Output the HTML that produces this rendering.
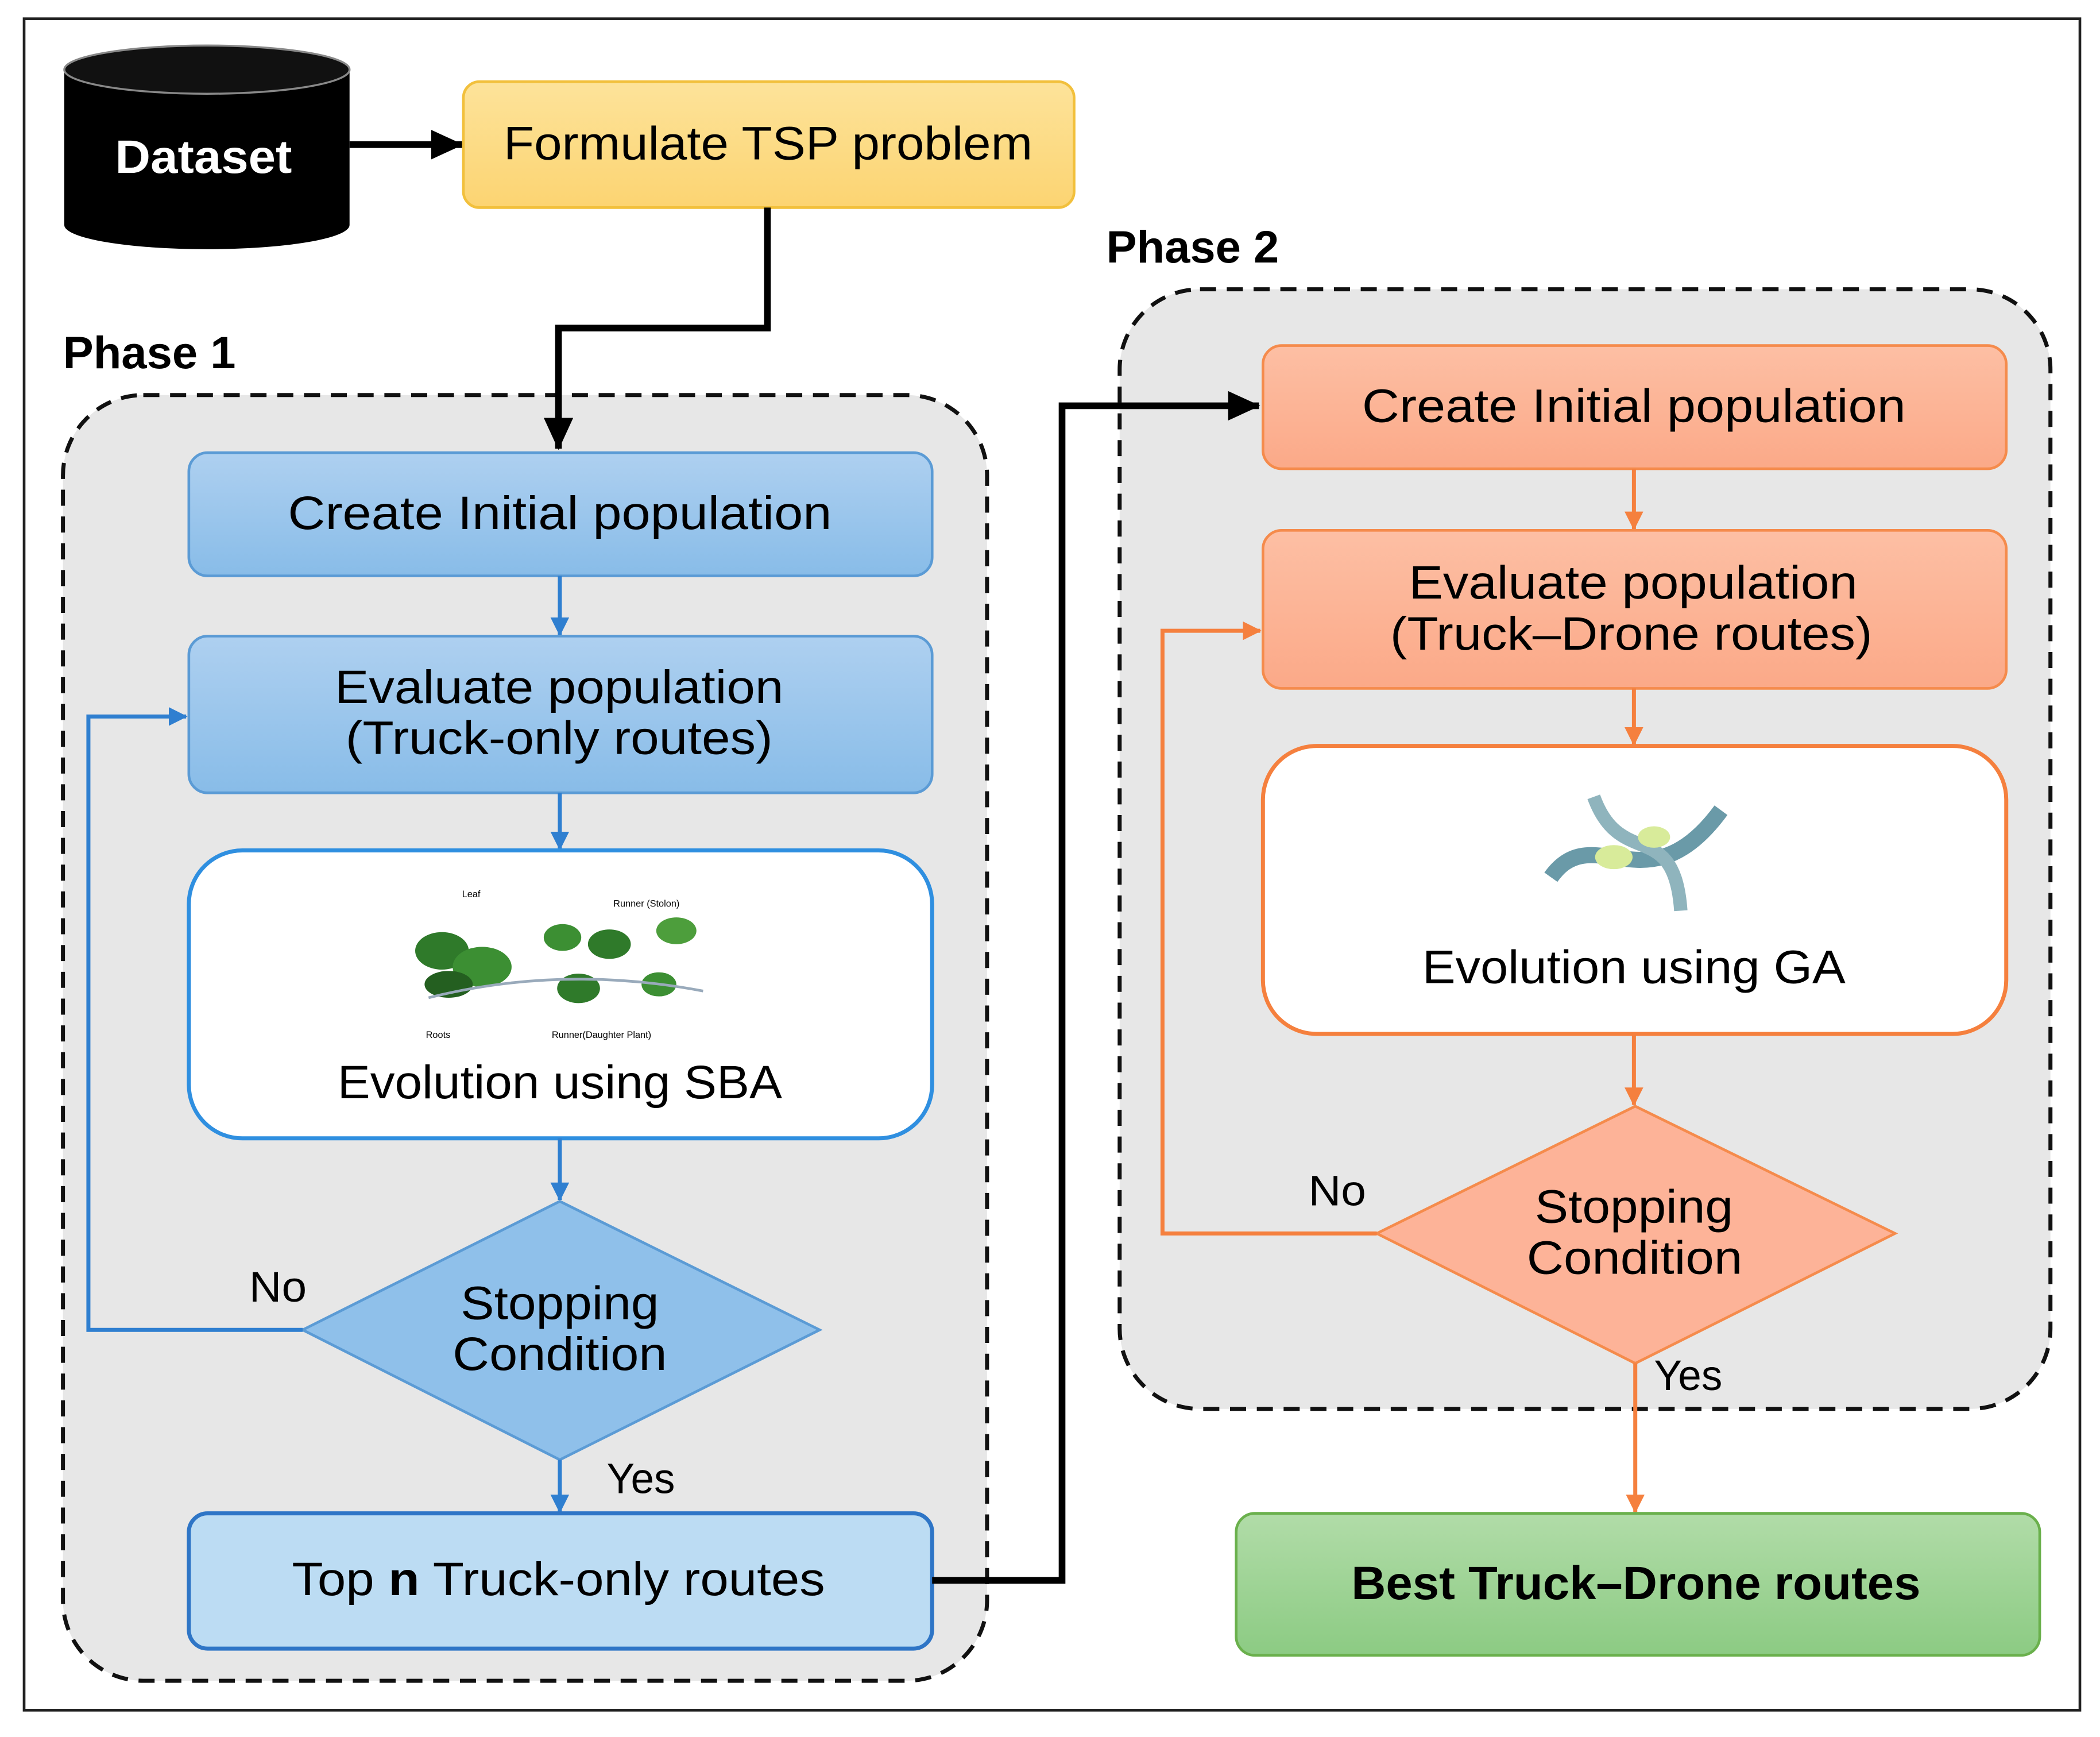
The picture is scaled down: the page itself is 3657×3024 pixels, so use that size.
<!DOCTYPE html>
<html><head><meta charset="utf-8"><style>
html,body{margin:0;padding:0;background:#fff}
svg{display:block}
text{font-family:"Liberation Sans",sans-serif}
</style></head><body>
<svg width="3657" height="3024" viewBox="0 0 1568 1297" preserveAspectRatio="none" xmlns="http://www.w3.org/2000/svg">
<defs>
<linearGradient id="bl" x1="0" y1="0" x2="0" y2="1"><stop offset="0" stop-color="#aed0f0"/><stop offset="1" stop-color="#88bce8"/></linearGradient>
<linearGradient id="or" x1="0" y1="0" x2="0" y2="1"><stop offset="0" stop-color="#fdbfa4"/><stop offset="1" stop-color="#fba988"/></linearGradient>
<linearGradient id="ye" x1="0" y1="0" x2="0" y2="1"><stop offset="0" stop-color="#fde39a"/><stop offset="1" stop-color="#fcd472"/></linearGradient>
<linearGradient id="gr" x1="0" y1="0" x2="0" y2="1"><stop offset="0" stop-color="#b1dca8"/><stop offset="1" stop-color="#8ccb83"/></linearGradient>
<marker id="abk" markerWidth="24" markerHeight="22" refX="23" refY="11" orient="auto" markerUnits="userSpaceOnUse"><path d="M0,0 L24,11 L0,22 z" fill="#000"/></marker>
<marker id="abl" markerWidth="14" markerHeight="14" refX="13" refY="7" orient="auto" markerUnits="userSpaceOnUse"><path d="M0,0 L14,7 L0,14 z" fill="#2f7fd0"/></marker>
<marker id="aor" markerWidth="14" markerHeight="14" refX="13" refY="7" orient="auto" markerUnits="userSpaceOnUse"><path d="M0,0 L14,7 L0,14 z" fill="#f5803e"/></marker>
</defs>
<rect x="18" y="14" width="1535" height="1263" fill="#fff" stroke="#222" stroke-width="2"/>
<rect x="47" y="295" width="690" height="960" rx="60" fill="#e7e7e7" stroke="#111" stroke-width="3" stroke-dasharray="12,8"/>
<rect x="836" y="216" width="695" height="836" rx="60" fill="#e7e7e7" stroke="#111" stroke-width="3" stroke-dasharray="12,8"/>
<text x="47" y="275" font-size="34" font-weight="bold" textLength="129" lengthAdjust="spacingAndGlyphs">Phase 1</text>
<text x="826" y="196" font-size="34" font-weight="bold" textLength="129" lengthAdjust="spacingAndGlyphs">Phase 2</text>
<path d="M48,52 L48,168 A106,18 0 0 0 261,168 L261,52 Z" fill="#000"/>
<ellipse cx="154.5" cy="52" rx="106.5" ry="18" fill="#111" stroke="#888" stroke-width="1.5"/>
<text x="86" y="129" font-size="35" font-weight="bold" fill="#fff" textLength="132" lengthAdjust="spacingAndGlyphs">Dataset</text>
<line x1="261" y1="108" x2="345" y2="108" stroke="#000" stroke-width="5" marker-end="url(#abk)"/>
<rect x="346" y="61" width="456" height="94" rx="12" fill="url(#ye)" stroke="#f2c03c" stroke-width="2"/>
<text x="376" y="119" font-size="35" textLength="395" lengthAdjust="spacingAndGlyphs">Formulate TSP problem</text>
<polyline points="573,155 573,245 417,245 417,335" fill="none" stroke="#000" stroke-width="5" marker-end="url(#abk)"/>
<rect x="141" y="338" width="555" height="92" rx="14" fill="url(#bl)" stroke="#5b9bd5" stroke-width="2"/>
<text x="215" y="395" font-size="35" textLength="406" lengthAdjust="spacingAndGlyphs">Create Initial population</text>
<line x1="418" y1="430" x2="418" y2="474" stroke="#2f7fd0" stroke-width="3" marker-end="url(#abl)"/>
<rect x="141" y="475" width="555" height="117" rx="14" fill="url(#bl)" stroke="#5b9bd5" stroke-width="2"/>
<text x="250" y="525" font-size="35" textLength="335" lengthAdjust="spacingAndGlyphs">Evaluate population</text>
<text x="258" y="563" font-size="35" textLength="319" lengthAdjust="spacingAndGlyphs">(Truck-only routes)</text>
<line x1="418" y1="592" x2="418" y2="634" stroke="#2f7fd0" stroke-width="3" marker-end="url(#abl)"/>
<rect x="141" y="635" width="555" height="215" rx="40" fill="#fff" stroke="#2f8fe0" stroke-width="3"/>
<g>
<ellipse cx="330" cy="710" rx="20" ry="14" fill="#2f7a2a"/>
<ellipse cx="360" cy="722" rx="22" ry="15" fill="#3c8f33"/>
<ellipse cx="335" cy="735" rx="18" ry="10" fill="#245f20"/>
<ellipse cx="420" cy="700" rx="14" ry="10" fill="#3c8f33"/>
<ellipse cx="455" cy="705" rx="16" ry="11" fill="#2f7a2a"/>
<ellipse cx="505" cy="695" rx="15" ry="10" fill="#4d9e3c"/>
<ellipse cx="432" cy="738" rx="16" ry="11" fill="#2f7a2a"/>
<ellipse cx="492" cy="735" rx="13" ry="9" fill="#3c8f33"/>
<path d="M320,745 Q420,720 525,740" stroke="#9ab" stroke-width="2" fill="none"/>
<text x="345" y="670" font-size="7">Leaf</text><text x="458" y="677" font-size="7">Runner (Stolon)</text>
<text x="318" y="775" font-size="7">Roots</text><text x="412" y="775" font-size="7">Runner(Daughter Plant)</text>
</g>
<text x="252" y="820" font-size="35" textLength="332" lengthAdjust="spacingAndGlyphs">Evolution using SBA</text>
<line x1="418" y1="850" x2="418" y2="896" stroke="#2f7fd0" stroke-width="3" marker-end="url(#abl)"/>
<polygon points="418,897 612,993 418,1090 226,993" fill="#8fc0ea" stroke="#5b9bd5" stroke-width="2"/>
<text x="344" y="985" font-size="35" textLength="148" lengthAdjust="spacingAndGlyphs">Stopping</text>
<text x="338" y="1023" font-size="35" textLength="160" lengthAdjust="spacingAndGlyphs">Condition</text>
<text x="186" y="972" font-size="32" textLength="43" lengthAdjust="spacingAndGlyphs">No</text>
<polyline points="226,993 66,993 66,535 139,535" fill="none" stroke="#2f7fd0" stroke-width="3" marker-end="url(#abl)"/>
<text x="453" y="1115" font-size="32" textLength="51" lengthAdjust="spacingAndGlyphs">Yes</text>
<line x1="418" y1="1090" x2="418" y2="1129" stroke="#2f7fd0" stroke-width="3" marker-end="url(#abl)"/>
<rect x="141" y="1130" width="555" height="101" rx="14" fill="#bcdcf3" stroke="#2e75c6" stroke-width="3"/>
<text x="218" y="1191" font-size="35" textLength="398" lengthAdjust="spacingAndGlyphs">Top <tspan font-weight="bold">n</tspan> Truck-only routes</text>
<polyline points="696,1180 793,1180 793,303 940,303" fill="none" stroke="#000" stroke-width="5" marker-end="url(#abk)"/>
<rect x="943" y="258" width="555" height="92" rx="14" fill="url(#or)" stroke="#f58b4c" stroke-width="2"/>
<text x="1017" y="315" font-size="35" textLength="406" lengthAdjust="spacingAndGlyphs">Create Initial population</text>
<line x1="1220" y1="350" x2="1220" y2="395" stroke="#f5803e" stroke-width="3" marker-end="url(#aor)"/>
<rect x="943" y="396" width="555" height="118" rx="14" fill="url(#or)" stroke="#f58b4c" stroke-width="2"/>
<text x="1052" y="447" font-size="35" textLength="335" lengthAdjust="spacingAndGlyphs">Evaluate population</text>
<text x="1038" y="485" font-size="35" textLength="360" lengthAdjust="spacingAndGlyphs">(Truck–Drone routes)</text>
<line x1="1220" y1="514" x2="1220" y2="556" stroke="#f5803e" stroke-width="3" marker-end="url(#aor)"/>
<rect x="943" y="557" width="555" height="215" rx="40" fill="#fff" stroke="#f5803e" stroke-width="3"/>
<path d="M1158,655 C1190,610 1230,680 1285,605" stroke="#6a9aa8" stroke-width="12" fill="none"/>
<path d="M1190,595 C1210,650 1250,610 1255,680" stroke="#8fb4bd" stroke-width="10" fill="none"/>
<ellipse cx="1205" cy="640" rx="14" ry="9" fill="#d8eb9a"/><ellipse cx="1235" cy="625" rx="12" ry="8" fill="#d8eb9a"/>
<text x="1062" y="734" font-size="35" textLength="316" lengthAdjust="spacingAndGlyphs">Evolution using GA</text>
<line x1="1220" y1="772" x2="1220" y2="825" stroke="#f5803e" stroke-width="3" marker-end="url(#aor)"/>
<polygon points="1221,826 1415,921 1221,1018 1028,921" fill="#fdb398" stroke="#f58b4c" stroke-width="2"/>
<text x="1146" y="913" font-size="35" textLength="148" lengthAdjust="spacingAndGlyphs">Stopping</text>
<text x="1140" y="951" font-size="35" textLength="161" lengthAdjust="spacingAndGlyphs">Condition</text>
<text x="977" y="900" font-size="32" textLength="43" lengthAdjust="spacingAndGlyphs">No</text>
<polyline points="1028,921 868,921 868,471 941,471" fill="none" stroke="#f5803e" stroke-width="3" marker-end="url(#aor)"/>
<text x="1235" y="1038" font-size="32" textLength="51" lengthAdjust="spacingAndGlyphs">Yes</text>
<line x1="1221" y1="1018" x2="1221" y2="1129" stroke="#f5803e" stroke-width="3" marker-end="url(#aor)"/>
<rect x="923" y="1130" width="600" height="106" rx="14" fill="url(#gr)" stroke="#6ab04c" stroke-width="2"/>
<text x="1009" y="1194" font-size="35" font-weight="bold" textLength="425" lengthAdjust="spacingAndGlyphs">Best Truck–Drone routes</text>
</svg>
</body></html>
